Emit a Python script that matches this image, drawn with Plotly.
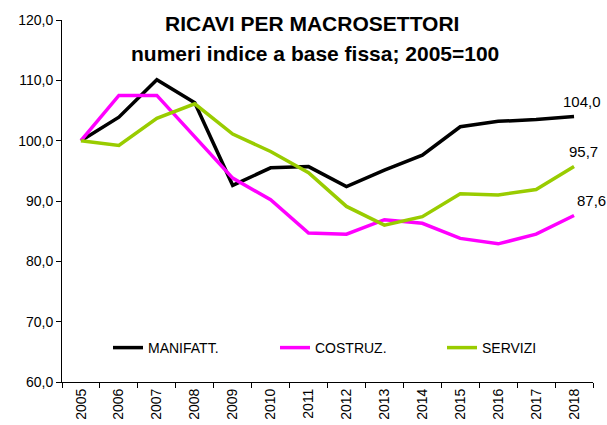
import plotly.graph_objects as go

years = ["2005", "2006", "2007", "2008", "2009", "2010", "2011", "2012", "2013", "2014", "2015", "2016", "2017", "2018"]
manifatt = [100.0, 103.9, 110.1, 106.3, 92.6, 95.5, 95.7, 92.4, 95.1, 97.6, 102.3, 103.2, 103.5, 104.0]
costruz = [100.0, 107.5, 107.5, 100.7, 93.8, 90.2, 84.7, 84.5, 86.9, 86.3, 83.8, 82.9, 84.5, 87.6]
servizi = [100.0, 99.2, 103.7, 106.1, 101.1, 98.2, 94.7, 89.1, 86.0, 87.4, 91.2, 91.0, 91.9, 95.7]
series_names = ["MANIFATT.", "COSTRUZ.", "SERVIZI"]
colors = ["#000000", "#FF00FF", "#99CC00"]

fig = go.Figure()
for name, vals, col in zip(series_names, [manifatt, costruz, servizi], colors):
    fig.add_trace(go.Scatter(x=years, y=vals, mode="lines", name=name,
                             line=dict(color=col, width=3.5)))

last_idx = len(years) - 1
label_shifts = [(8, 15), (9, 15), (17, 15)]
for vals, (xs, ys) in zip([manifatt, servizi, costruz], label_shifts):
    fig.add_annotation(x=last_idx, y=vals[-1], text=f"{vals[-1]:.1f}".replace(".", ","),
                       showarrow=False, xshift=xs, yshift=ys,
                       font=dict(family="Liberation Sans, Arial", size=15, color="#000"))

fig.add_annotation(xref="paper", yref="paper", x=(312 - 62) / 531, y=(382 - 24) / 362,
                   text="<b>RICAVI PER MACROSETTORI</b>", showarrow=False,
                   xanchor="center", yanchor="middle",
                   font=dict(family="Liberation Sans, Arial", size=21, color="#000"))
fig.add_annotation(xref="paper", yref="paper", x=(315 - 62) / 531, y=(382 - 53) / 362,
                   text="<b>numeri indice a base fissa; 2005=100</b>", showarrow=False,
                   xanchor="center", yanchor="middle",
                   font=dict(family="Liberation Sans, Arial", size=21, color="#000"))

fig.update_layout(
    width=607, height=425,
    margin=dict(l=62, r=14, t=20, b=43, autoexpand=False),
    paper_bgcolor="white", plot_bgcolor="white",
    separators=",.",
    font=dict(family="Liberation Sans, Arial", size=14, color="#000"),
    showlegend=True,
    legend=dict(orientation="h", x=(108 - 62) / 531, y=(382 - 348) / 362,
                xanchor="left", yanchor="middle",
                bgcolor="rgba(0,0,0,0)", font=dict(size=14),
                entrywidth=122, entrywidthmode="pixels"),
    xaxis=dict(type="category", range=[-0.5, 13.5], showgrid=False, automargin=False,
               showline=True, linecolor="#000", linewidth=1,
               ticks="outside", tickson="boundaries", ticklen=5, tickcolor="#000",
               tickangle=-90, tickfont=dict(size=14)),
    yaxis=dict(range=[60, 120], dtick=10, tickformat=".1f", showgrid=False, automargin=False,
               showline=True, linecolor="#000", linewidth=1,
               ticks="outside", ticklen=5, tickcolor="#000", zeroline=False,
               tickfont=dict(size=14)),
)

fig.write_html("out.html", config={"displayModeBar": False},
               post_script="document.body.style.margin='0';")
